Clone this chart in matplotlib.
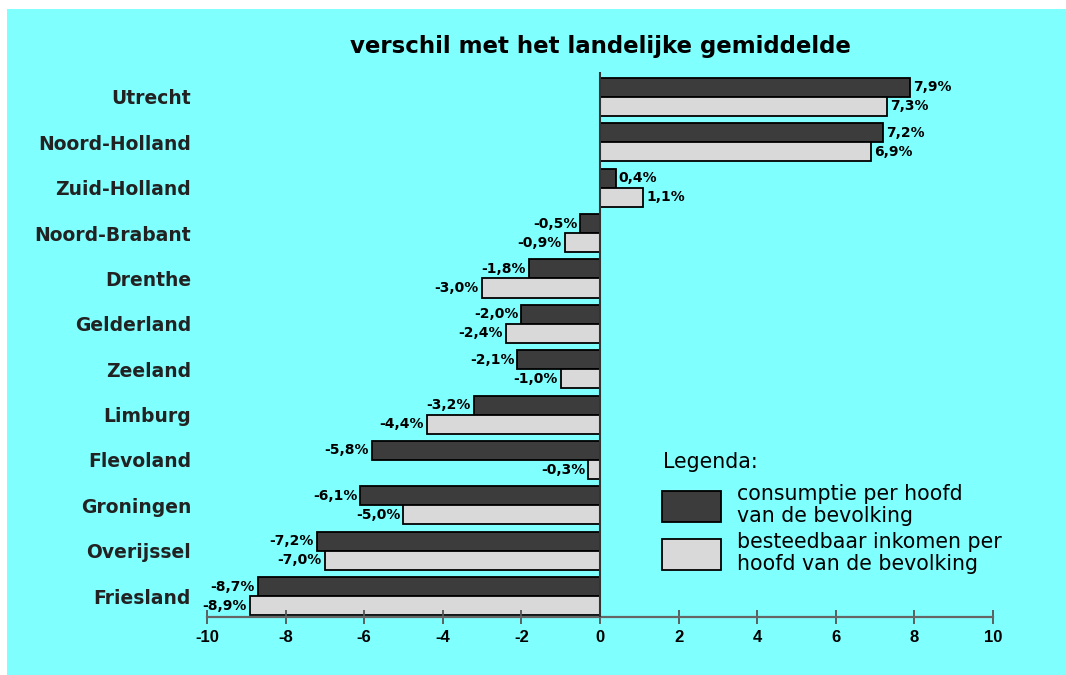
import matplotlib
matplotlib.use('Agg')
import matplotlib.pyplot as plt
from matplotlib.patches import Rectangle
import numpy as np

# ------------------------------------------------------------
# Gegevens
# ------------------------------------------------------------
provincies = ['Utrecht', 'Noord-Holland', 'Zuid-Holland', 'Noord-Brabant',
              'Drenthe', 'Gelderland', 'Zeeland', 'Limburg', 'Flevoland',
              'Groningen', 'Overijssel', 'Friesland']
consumptie = [7.9, 7.2, 0.4, -0.5, -1.8, -2.0, -2.1, -3.2, -5.8, -6.1, -7.2, -8.7]
inkomen = [7.3, 6.9, 1.1, -0.9, -3.0, -2.4, -1.0, -4.4, -0.3, -5.0, -7.0, -8.9]
xticks = [-10, -8, -6, -4, -2, 0, 2, 4, 6, 8, 10]

label_consumptie = 'consumptie per hoofd\nvan de bevolking'
label_inkomen = 'besteedbaar inkomen per\nhoofd van de bevolking'
titel = 'verschil met het landelijke gemiddelde'

CYAAN = '#80ffff'
DONKER = '#3c3c3c'
LICHT = '#d9d9d9'

plt.rcParams['font.family'] = ['DejaVu Sans']

fig = plt.figure(figsize=(10.66, 6.75), dpi=100, facecolor='white')
fig.patches.append(Rectangle((7 / 1066, 0), 1, (675 - 9) / 675,
                             transform=fig.transFigure, facecolor=CYAAN,
                             edgecolor='none', zorder=-10))

ax = fig.add_axes([207 / 1066, 58 / 675, 786 / 1066, 545 / 675])
ax.set_facecolor('none')

y = np.arange(len(provincies))
h = 0.42
b1 = ax.barh(y - h / 2, consumptie, height=h, color=DONKER, edgecolor='black',
             linewidth=1.3, label=label_consumptie)
b2 = ax.barh(y + h / 2, inkomen, height=h, color=LICHT, edgecolor='black',
             linewidth=1.3, label=label_inkomen)


def fmt(v):
    return f'{v:.1f}%'.replace('.', ',')


for rects, vals in ((b1, consumptie), (b2, inkomen)):
    for r, v in zip(rects, vals):
        yc = r.get_y() + r.get_height() / 2
        if v >= 0:
            ax.text(v + 0.08, yc, fmt(v), ha='left', va='center',
                    fontsize=10, fontweight='bold')
        else:
            ax.text(v - 0.08, yc, fmt(v), ha='right', va='center',
                    fontsize=10, fontweight='bold')

ax.set_xlim(-10, 10)
ax.set_ylim(11.46, -0.55)
ax.axvline(0, color='#333333', linewidth=1.5, zorder=3)

for s in ('top', 'right', 'left'):
    ax.spines[s].set_visible(False)
ax.spines['bottom'].set_color('#666666')
ax.spines['bottom'].set_linewidth(1.6)

ax.set_xticks(xticks)
ax.set_xticklabels([str(t) for t in xticks])
ax.tick_params(axis='x', direction='inout', length=10, width=1.3,
               color='#555555', labelsize=12, pad=4)
for lab in ax.get_xticklabels():
    lab.set_fontweight('bold')
    lab.set_family(['Liberation Sans', 'DejaVu Sans'])

ax.set_yticks(y)
ax.set_yticklabels(provincies, fontsize=13.5, fontweight='bold', color='#222222')
ax.tick_params(axis='y', length=0, pad=11.5)

ax.set_title(titel, fontsize=16.5, fontweight='bold', pad=14)

# legenda
fig.text(663 / 1066, (675 - 462) / 675, 'Legenda:', fontsize=14.8,
         ha='left', va='center')
leg = ax.legend(handles=[b1, b2], loc='upper left',
                bbox_to_anchor=(643 / 1066, (675 - 466) / 675),
                bbox_transform=fig.transFigure, frameon=False,
                fontsize=14.8, handlelength=2.9, handleheight=2.0,
                handletextpad=0.75, labelspacing=0.33)
for t in leg.get_texts():
    t.set_linespacing(1.07)

fig.savefig('out.png', dpi=100, facecolor=fig.get_facecolor())
